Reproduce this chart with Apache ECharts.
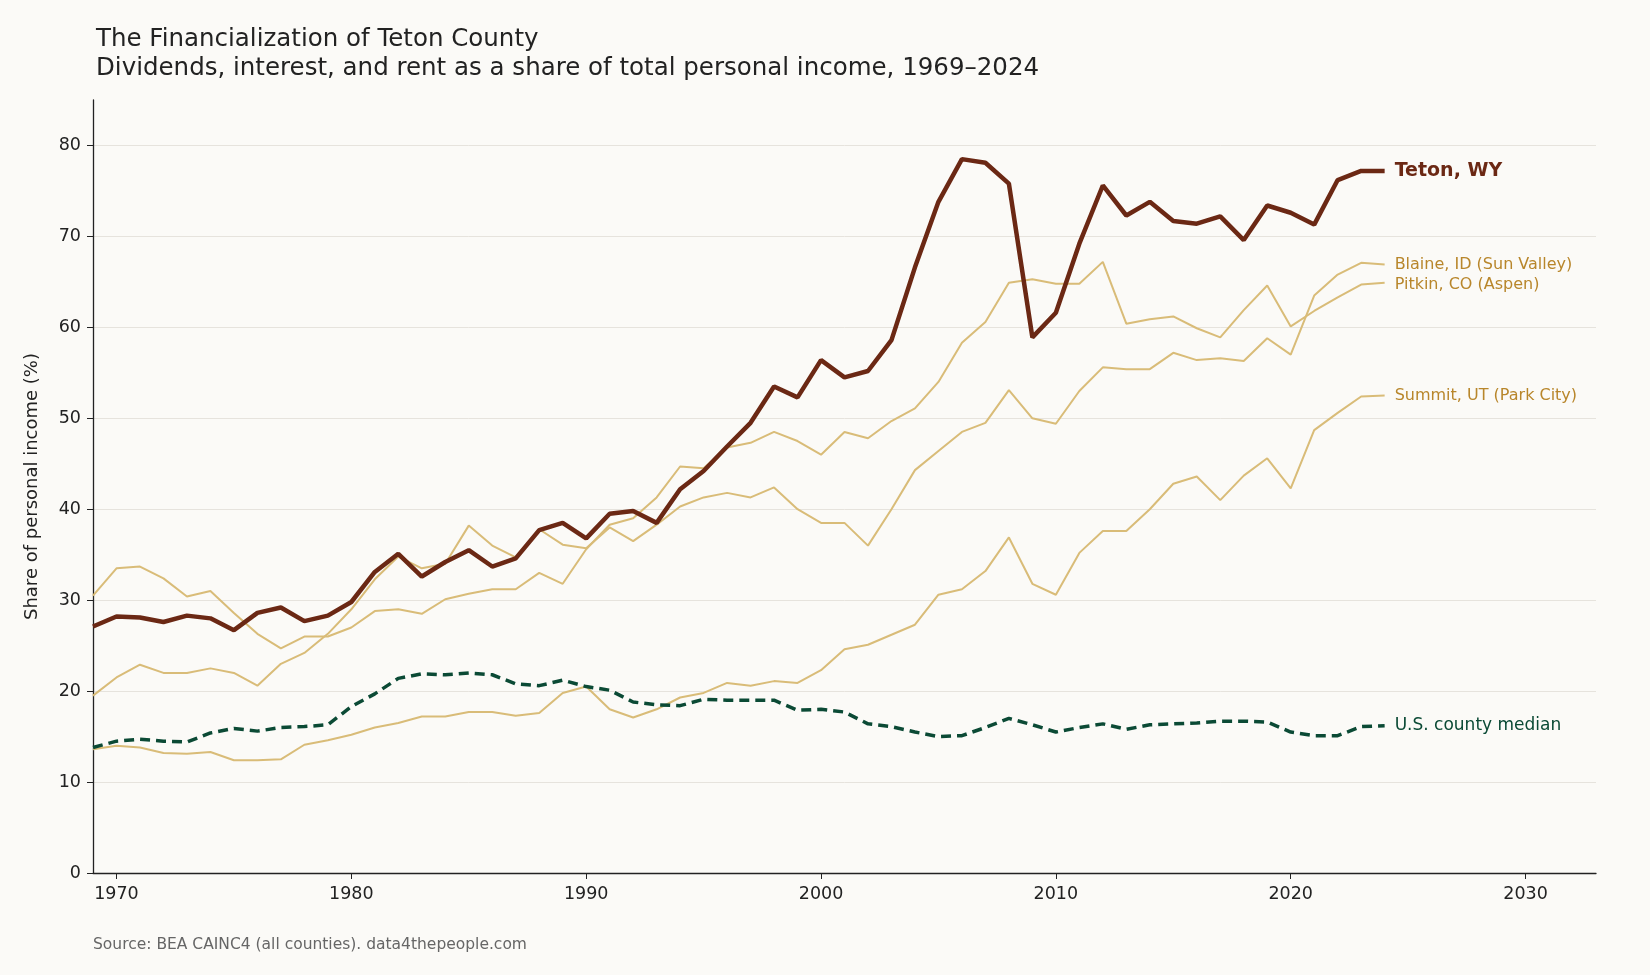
<!DOCTYPE html>
<html><head><meta charset="utf-8">
<script src="https://cdn.jsdelivr.net/npm/echarts@6/dist/echarts.min.js"></script>
<style>html,body{margin:0;background:#fbfaf7}#c{width:1650px;height:975px}</style>
</head><body><div id="c"></div>
<script>
const years = Array.from({length:56},(_,i)=>1969+i);
const teton = [27.1,28.2,28.1,27.6,28.3,28,26.7,28.6,29.2,27.7,28.3,29.8,33.1,35.1,32.6,34.2,35.5,33.7,34.6,37.7,38.5,36.8,39.5,39.8,38.5,42.2,44.2,46.9,49.5,53.5,52.3,56.4,54.5,55.2,58.6,66.6,73.8,78.5,78.1,75.8,58.9,61.6,69.2,75.6,72.3,73.8,71.7,71.4,72.2,69.6,73.4,72.6,71.3,76.2,77.2,77.2];
const blaine = [19.5,21.5,22.9,22,22,22.5,22,20.6,23,24.2,26.3,29,32.3,34.8,33.5,34,38.2,36,34.7,37.8,36.1,35.7,38,36.5,38.3,40.3,41.3,41.8,41.3,42.4,40,38.5,38.5,36,40,44.3,46.4,48.5,49.5,53.1,50,49.4,53,55.6,55.4,55.4,57.2,56.4,56.6,56.3,58.8,57,63.5,65.8,67.1,66.9];
const pitkin = [30.5,33.5,33.7,32.4,30.4,31,28.6,26.3,24.7,26,26,27,28.8,29,28.5,30.1,30.7,31.2,31.2,33,31.8,35.6,38.3,39,41.3,44.7,44.5,46.8,47.3,48.5,47.5,46,48.5,47.8,49.7,51.1,54,58.3,60.6,64.9,65.3,64.8,64.8,67.2,60.4,60.9,61.2,59.9,58.9,61.9,64.6,60.1,61.8,63.3,64.7,64.9];
const summit = [13.6,14,13.8,13.2,13.1,13.3,12.4,12.4,12.5,14.1,14.6,15.2,16,16.5,17.2,17.2,17.7,17.7,17.3,17.6,19.8,20.5,18,17.1,18,19.3,19.8,20.9,20.6,21.1,20.9,22.3,24.6,25.1,26.2,27.3,30.6,31.2,33.2,36.9,31.8,30.6,35.2,37.6,37.6,40,42.8,43.6,41,43.7,45.6,42.3,48.7,50.6,52.4,52.5];
const median = [13.8,14.5,14.7,14.5,14.4,15.4,15.9,15.6,16,16.1,16.3,18.3,19.7,21.4,21.9,21.8,22,21.8,20.8,20.6,21.2,20.5,20.1,18.8,18.5,18.4,19.1,19,19,19,17.9,18,17.7,16.4,16.1,15.5,15,15.1,16,17,16.3,15.5,16,16.4,15.8,16.3,16.4,16.5,16.7,16.7,16.6,15.5,15.1,15.1,16.1,16.2];
const xTicks = [1970,1980,1990,2000,2010,2020,2030];
const yTicks = [0,10,20,30,40,50,60,70,80];
const F = 'DejaVu Sans';
const pair = a => years.map((y,i)=>[y,a[i]]);
const gold = (name,data,label,dy) => ({type:'line',name,data:pair(data),showSymbol:false,z:2,
  lineStyle:{color:'#d9bc78',width:2},
  endLabel:{show:true,formatter:label,color:'#b8862b',fontSize:16,fontFamily:F,distance:10,offset:[0,dy]}});
const chart = echarts.init(document.getElementById('c'));
chart.setOption({
  backgroundColor:'#fbfaf7',
  animation:false,
  title:{text:'The Financialization of Teton County\nDividends, interest, and rent as a share of total personal income, 1969–2024',
    left:91,top:20,textStyle:{fontFamily:F,fontWeight:'normal',fontSize:24.5,color:'#222',lineHeight:29}},
  graphic:[{type:'text',left:93,top:937,style:{text:'Source: BEA CAINC4 (all counties). data4thepeople.com',fontFamily:F,fontSize:15.5,fill:'#666'}}],
  grid:{left:93,right:54,top:100,bottom:102},
  xAxis:{type:'value',min:1969,max:2033,
    axisLine:{lineStyle:{color:'#222',width:1.3}},
    axisTick:{show:true,customValues:xTicks,length:6,lineStyle:{color:'#222'}},
    axisLabel:{customValues:xTicks,formatter:v=>String(v),fontFamily:F,fontSize:17.5,color:'#222',margin:12},
    splitLine:{show:false}},
  yAxis:{type:'value',min:0,max:85,interval:10,
    name:'Share of personal income (%)',nameLocation:'middle',nameGap:52,
    nameTextStyle:{fontFamily:F,fontSize:18,color:'#222'},
    axisLine:{show:true,lineStyle:{color:'#222',width:1.3}},
    axisTick:{show:true,customValues:yTicks,length:6,lineStyle:{color:'#222'}},
    axisLabel:{customValues:yTicks,fontFamily:F,fontSize:17.5,color:'#222',margin:12},
    splitLine:{show:true,lineStyle:{color:'#e6e3dd',width:1}}},
  series:[
    gold('Blaine',blaine,'Blaine, ID (Sun Valley)',0),
    gold('Pitkin',pitkin,'Pitkin, CO (Aspen)',2),
    gold('Summit',summit,'Summit, UT (Park City)',0),
    {type:'line',name:'Median',data:pair(median),showSymbol:false,z:3,
      lineStyle:{color:'#0b4a35',width:3.5,type:[10,6]},
      endLabel:{show:true,formatter:'U.S. county median',color:'#0b4a35',fontSize:17,fontFamily:F,distance:10}},
    {type:'line',name:'Teton',data:pair(teton),showSymbol:false,z:4,
      lineStyle:{color:'#6b2814',width:4.5},
      endLabel:{show:true,formatter:'Teton, WY',color:'#6b2814',fontSize:19,fontWeight:'bold',fontFamily:F,distance:10}}
  ]
});
</script></body></html>
